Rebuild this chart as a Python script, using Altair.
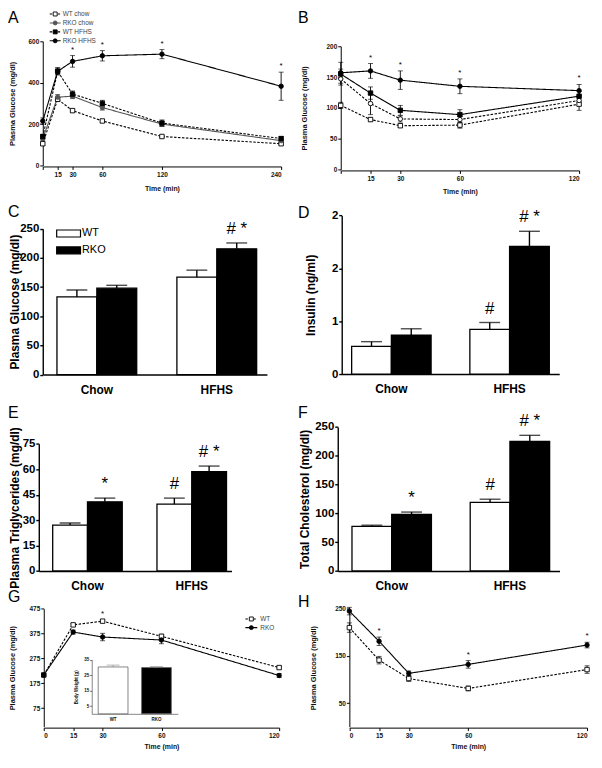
import altair as alt
import pandas as pd

FONT = "Liberation Sans"
W, H = 590, 745

# ---------------- data ----------------
# A: glucose tolerance
a_times = [0, 15, 30, 60, 120, 240]
a_wt_chow = [105, 320, 265, 215, 140, 105]
a_wt_chow_sem = [8, 10, 8, 6, 6, 6]
a_rko_chow = [130, 330, 335, 280, 200, 120]
a_rko_chow_sem = [8, 12, 12, 12, 12, 8]
a_wt_hfhs = [140, 455, 345, 300, 205, 130]
a_wt_hfhs_sem = [10, 15, 15, 15, 15, 10]
a_rko_hfhs = [215, 455, 503, 530, 538, 383]
a_rko_hfhs_sem = [15, 18, 28, 25, 22, 68]
a_sig_times = [30, 60, 120, 240]

# B: insulin tolerance
b_times = [0, 15, 30, 60, 120]
b_wt_chow = [104, 81, 71, 72, 106]
b_wt_chow_sem = [5, 3, 3, 5, 10]
b_rko_chow = [147, 107, 82, 81, 112]
b_rko_chow_sem = [10, 18, 5, 5, 8]
b_wt_hfhs = [155, 124, 96, 89, 119]
b_wt_hfhs_sem = [8, 10, 8, 8, 8]
b_rko_hfhs = [157, 160, 145, 135, 128]
b_rko_hfhs_sem = [17, 12, 15, 12, 10]
b_sig_times = [15, 30, 60, 120]

series_names = ["WT chow", "RKO chow", "WT HFHS", "RKO HFHS"]

# C-F: bars (order: WT chow, RKO chow, WT HFHS, RKO HFHS)
diets = ["Chow", "HFHS"]
genos = ["WT", "RKO"]
c_glucose = [133, 148, 167, 215.6]
c_sem = [12, 5, 12, 10]
c_marks = ["", "", "", "# *"]
d_insulin = [0.42, 0.59, 0.675, 1.93]
d_sem = [0.07, 0.095, 0.105, 0.23]
d_marks = ["", "", "#", "# *"]
e_tg = [27.1, 40.8, 39.4, 58.6]
e_sem = [1.2, 2.2, 3.6, 3.3]
e_marks = ["", "*", "#", "# *"]
f_chol = [77.6, 98.3, 119, 225]
f_sem = [1.9, 4.0, 5.6, 10.5]
f_marks = ["", "*", "#", "# *"]

# G: glucose tolerance, WT vs RKO
g_times = [0, 15, 30, 60, 120]
g_wt = [208, 410, 425, 364, 238]
g_wt_sem = [6, 6, 4, 8, 6]
g_rko = [208, 381, 361, 349, 206]
g_rko_sem = [8, 8, 15, 15, 8]
g_sig_times = [30]
# G inset: body weight
bw_mean = [30.3, 29.9]
bw_sem = [1.2, 0.7]

# H: insulin tolerance, WT vs RKO
h_times = [0, 15, 30, 60, 120]
h_wt = [210, 141, 102, 81, 121]
h_wt_sem = [10, 8, 6, 5, 8]
h_rko = [245, 181, 113, 132, 173]
h_rko_sem = [8, 9, 5, 8, 6]
h_sig_times = [15, 60, 120]


# ---------------- helpers ----------------
def long_df(times, pairs):
    rows = []
    for name, means, sems in pairs:
        for t, m, s in zip(times, means, sems):
            rows.append(dict(series=name, t=t, mean=m, lo=m - s, hi=m + s))
    return pd.DataFrame(rows)


def star_df(df, series, times):
    sub = df[(df["series"] == series) & (df["t"].isin(times))]
    return sub[["t", "hi"]].reset_index(drop=True)


def style_encodings(names, dashes, strokes, fills, shapes):
    dash = alt.StrokeDash("series:N", scale=alt.Scale(domain=names, range=dashes), legend=None)
    strk = alt.Stroke("series:N", scale=alt.Scale(domain=names, range=strokes), legend=None)
    fil = alt.Fill("series:N", scale=alt.Scale(domain=names, range=fills), legend=None)
    shp = alt.Shape("series:N", scale=alt.Scale(domain=names, range=shapes), legend=None)
    return dash, strk, fil, shp


def line_panel(df, stars, style, xdom, xr, xticks, hide0, ydom, yr, yticks,
               ax_y, ay_x, ytitle, ytitle_x, xtitle_y):
    dash, strk, fil, shp = style
    xkw = dict(orient="bottom", offset=ax_y - H, values=xticks, title="Time (min)",
               tickSize=3, tickWidth=1, domainWidth=1, labelFontSize=6.5,
               labelFontWeight="bold", labelPadding=2, titleFontSize=7,
               titleFontWeight="bold", titleY=xtitle_y - ax_y, titleBaseline="middle")
    if hide0:
        xkw["labelExpr"] = "datum.value == 0 ? '' : datum.label"
    X = alt.X("t:Q", scale=alt.Scale(domain=xdom, range=xr, nice=False, zero=False),
              axis=alt.Axis(**xkw))
    ysc = alt.Scale(domain=ydom, range=yr, nice=False, zero=False)
    yax = alt.Axis(orient="left", offset=-ay_x, values=yticks, title=ytitle,
                   tickSize=3, tickWidth=1, domainWidth=1, labelFontSize=6.5,
                   labelFontWeight="bold", labelPadding=1, titleFontSize=7.5,
                   titleFontWeight="bold", titleX=ytitle_x - ay_x, titleBaseline="middle")

    def Y(f):
        return alt.Y(f"{f}:Q", scale=ysc, axis=yax)

    base = alt.Chart(df)
    lines = base.mark_line(strokeWidth=1.1).encode(X, Y("mean"), strokeDash=dash, stroke=strk)
    err = base.mark_rule(color="black", strokeWidth=0.9).encode(X, Y("lo"), y2="hi:Q")
    cap_hi = base.mark_tick(orient="horizontal", size=5, thickness=0.9, color="black").encode(X, Y("hi"))
    cap_lo = base.mark_tick(orient="horizontal", size=5, thickness=0.9, color="black").encode(X, Y("lo"))
    pts = base.mark_point(size=20, opacity=1, strokeWidth=0.9).encode(
        X, Y("mean"), shape=shp, fill=fil, stroke=strk)
    st = alt.Chart(stars).mark_text(text="*", fontSize=8, dy=-6, font=FONT).encode(X, Y("hi"))
    return alt.layer(lines, err, cap_hi, cap_lo, pts, st)


def bar_panel(vals, sems, marks, xr, pi, po, al, ydom, yr, yticks, yfmt,
              ax_y, ay_x, ytitle, ytitle_x):
    df = pd.DataFrame({
        "diet": [d for d in diets for g in genos],
        "geno": [g for d in diets for g in genos],
        "mean": vals, "sem": sems, "mark": marks,
    })
    df["hi"] = df["mean"] + df["sem"]
    X = alt.X("diet:N",
              scale=alt.Scale(domain=diets, range=xr, paddingInner=pi, paddingOuter=po, align=al),
              axis=alt.Axis(orient="bottom", offset=ax_y - H, title=None, ticks=False,
                            labelAngle=0, labelFontSize=12, labelFontWeight="bold",
                            labelPadding=10, domainWidth=1.4, labelColor="black"))
    XO = alt.XOffset("geno:N", scale=alt.Scale(domain=genos, paddingInner=0, paddingOuter=0))
    ysc = alt.Scale(domain=ydom, range=yr, nice=False)
    ykw = dict(orient="left", offset=-ay_x, values=yticks, title=ytitle, tickSize=3,
               tickWidth=1.4, domainWidth=1.4, labelFontSize=11.5, labelFontWeight="bold",
               labelPadding=1, titleFontSize=12, titleFontWeight="bold",
               titleX=ytitle_x - ay_x, titleBaseline="middle", labelColor="black",
               titleColor="black")
    if yfmt:
        ykw["format"] = yfmt
    yax = alt.Axis(**ykw)

    def Y(f):
        return alt.Y(f"{f}:Q", scale=ysc, axis=yax)

    fill = alt.Fill("geno:N", scale=alt.Scale(domain=genos, range=["white", "black"]), legend=None)
    base = alt.Chart(df)
    bars = base.mark_bar(stroke="black", strokeWidth=1.3).encode(X, XO, Y("mean"), fill=fill)
    err = base.mark_rule(color="black", strokeWidth=1.4).encode(X, XO, Y("mean"), y2="hi:Q")
    cap = base.mark_tick(orient="horizontal", size=21, thickness=1.4, color="black").encode(X, XO, Y("hi"))
    ann = alt.Chart(df[df["mark"] != ""]).mark_text(
        fontSize=17, dy=-9, baseline="alphabetic", font=FONT).encode(X, XO, Y("hi"), text="mark:N")
    return alt.layer(bars, err, cap, ann)


def line_legend(names, style, rows, x0, x1, xm, xt):
    dash, strk, fil, shp = style
    df = pd.DataFrame({"series": names})
    Y = alt.Y("series:N", scale=alt.Scale(type="point", domain=names, range=rows, padding=0), axis=None)
    seg = alt.Chart(df).mark_rule(strokeWidth=1.1).encode(
        x=alt.value(x0), x2=alt.value(x1), y=Y, strokeDash=dash, stroke=strk)
    pt = alt.Chart(df).mark_point(size=16, opacity=1, strokeWidth=0.9).encode(
        x=alt.value(xm), y=Y, shape=shp, fill=fil, stroke=strk)
    tx = alt.Chart(df).mark_text(align="left", fontSize=6.5, color="#444", font=FONT).encode(
        x=alt.value(xt), y=Y, text="series:N")
    return alt.layer(seg, pt, tx)


def letter(ch, x, y):
    return alt.Chart(pd.DataFrame({"lab": [ch]})).mark_text(
        align="left", baseline="top", fontSize=16, font=FONT, color="black").encode(
        x=alt.value(x), y=alt.value(y), text="lab:N")


# ---------------- panels ----------------
DASH = [2.5, 1.5]
SOLID = [1, 0]

style_a = style_encodings(series_names, [DASH, SOLID, DASH, SOLID],
                          ["black", "#555", "black", "black"],
                          ["white", "#555", "black", "black"],
                          ["square", "circle", "square", "circle"])
df_a = long_df(a_times, [("WT chow", a_wt_chow, a_wt_chow_sem),
                         ("RKO chow", a_rko_chow, a_rko_chow_sem),
                         ("WT HFHS", a_wt_hfhs, a_wt_hfhs_sem),
                         ("RKO HFHS", a_rko_hfhs, a_rko_hfhs_sem)])
pA = line_panel(df_a, star_df(df_a, "RKO HFHS", a_sig_times), style_a,
                [0, 240], [35, 275], a_times, True, [0, 600], [156, 31], [0, 200, 400, 600],
                157, 35, "Plasma Glucose (mg/dl)", 4.5, 179.5)
legA = line_legend(series_names, style_a, [3.5, 30.5], 42, 53, 47.5, 55)

style_b = style_encodings(series_names, [DASH, DASH, SOLID, SOLID],
                          ["black", "black", "black", "black"],
                          ["white", "white", "black", "black"],
                          ["square", "circle", "square", "circle"])
df_b = long_df(b_times, [("WT chow", b_wt_chow, b_wt_chow_sem),
                         ("RKO chow", b_rko_chow, b_rko_chow_sem),
                         ("WT HFHS", b_wt_hfhs, b_wt_hfhs_sem),
                         ("RKO HFHS", b_rko_hfhs, b_rko_hfhs_sem)])
pB = line_panel(df_b, star_df(df_b, "RKO HFHS", b_sig_times), style_b,
                [0, 120], [335, 575], b_times, True, [0, 200], [160, 36], [0, 50, 100, 150, 200],
                161, 335, "Plasma Glucose (mg/dl)", 299, 182)

pC = bar_panel(c_glucose, c_sem, c_marks, [35, 260.7], 0.335, 0.102, 0.58,
               [0, 250], [366.5, 219.7], [0, 50, 100, 150, 200, 250], None,
               366.5, 35, "Plasma Glucose (mg/dl)", 6.5)
leg_df = pd.DataFrame({"geno": genos})
leg_y = alt.Y("geno:N", scale=alt.Scale(type="band", domain=genos, range=[221, 245],
                                         paddingInner=0.588, paddingOuter=0), axis=None)
legC = alt.layer(
    alt.Chart(leg_df).mark_rect(stroke="black", strokeWidth=1.2).encode(
        x=alt.value(49), x2=alt.value(73), y=leg_y,
        fill=alt.Fill("geno:N", scale=alt.Scale(domain=genos, range=["white", "black"]), legend=None)),
    alt.Chart(leg_df).mark_text(align="left", fontSize=11, font=FONT).encode(
        x=alt.value(74.5), y=leg_y, text="geno:N"),
)

pD = bar_panel(d_insulin, d_sem, d_marks, [336, 555], 0.328, 0.084, 0.5,
               [0, 2.4], [366, 206.3], [0, 0.8, 1.6, 2.4], ".0f",
               366, 336, "Insulin (ng/ml)", 305)
pE = bar_panel(e_tg, e_sem, e_marks, [31, 225], 0.333, 0.0905, 0.737,
               [0, 75], [564.3, 436.3], [0, 15, 30, 45, 60, 75], None,
               564.3, 31, "Plasma Triglycerides (mg/dl)", 6.5)
pF = bar_panel(f_chol, f_sem, f_marks, [332, 555.3], 0.328, 0.102, 0.59,
               [0, 250], [564.3, 419.3], [0, 50, 100, 150, 200, 250], None,
               564.3, 332, "Total Cholesterol (mg/dl)", 298.5)

gh_names = ["WT", "RKO"]
style_g = style_encodings(gh_names, [DASH, SOLID], ["black", "black"], ["white", "black"],
                          ["square", "circle"])
df_g = long_df(g_times, [("WT", g_wt, g_wt_sem), ("RKO", g_rko, g_rko_sem)])
pG = line_panel(df_g, star_df(df_g, "WT", g_sig_times), style_g,
                [0, 120], [36, 273], g_times, False, [0, 475], [721, 602.3],
                [75, 175, 275, 375, 475], 722, 36, "Plasma Glucose (mg/dl)", 4.5, 741)
legG = line_legend(gh_names, style_g, [612.6, 621.3], 239, 251, 245, 254)

# inset body weight
bw_df = pd.DataFrame({"geno": genos, "mean": bw_mean, "sem": bw_sem})
bw_df["hi"] = bw_df["mean"] + bw_df["sem"]
IX = alt.X("geno:N", scale=alt.Scale(domain=genos, range=[84.3, 171], paddingInner=0.313,
                                     paddingOuter=0.149),
           axis=alt.Axis(orient="bottom", offset=708.1 - H, title=None, ticks=False, labelAngle=0,
                         labelFontSize=4.5, labelFontWeight="bold", labelPadding=3,
                         domainColor="#666", domainWidth=0.8))
isc = alt.Scale(domain=[0, 35], range=[708.1, 653.6], nice=False)
iax = alt.Axis(orient="left", offset=-84.3, values=[5, 15, 25, 35], title="Body Weight (g)",
               tickSize=2, tickColor="#666", domainColor="#666", domainWidth=0.8,
               labelFontSize=4.5, labelFontWeight="bold", labelPadding=1,
               titleFontSize=4.5, titleFontWeight="bold", titleX=69 - 84.3,
               titleBaseline="middle")
inset = alt.layer(
    alt.Chart(bw_df).mark_bar(stroke="#666", strokeWidth=0.8).encode(
        IX, alt.Y("mean:Q", scale=isc, axis=iax),
        fill=alt.Fill("geno:N", scale=alt.Scale(domain=genos, range=["white", "black"]), legend=None)),
    alt.Chart(bw_df).mark_rule(color="#999", strokeWidth=1).encode(
        IX, alt.Y("mean:Q", scale=isc, axis=iax), y2="hi:Q"),
    alt.Chart(bw_df).mark_tick(orient="horizontal", size=13, thickness=1, color="#999").encode(
        IX, alt.Y("hi:Q", scale=isc, axis=iax)),
)

df_h = long_df(h_times, [("WT", h_wt, h_wt_sem), ("RKO", h_rko, h_rko_sem)])
pH = line_panel(df_h, star_df(df_h, "RKO", h_sig_times), style_g,
                [0, 120], [343.7, 583], h_times, False, [0, 250], [721, 602.3],
                [50, 150, 250], 722, 343.7, "Plasma Glucose (mg/dl)", 308, 741)

letters = [letter("A", 0, 0), letter("B", 292, 0), letter("C", 0, 195), letter("D", 292, 196),
           letter("E", 0, 397), letter("F", 292, 397), letter("G", 0, 583), letter("H", 292, 588)]

chart = alt.layer(pA, legA, pB, pC, legC, pD, pE, pF, pG, inset, legG, pH, *letters).resolve_scale(
    x="independent", y="independent", xOffset="independent", fill="independent",
    stroke="independent", strokeDash="independent", shape="independent",
).resolve_axis(x="independent", y="independent").properties(
    width=W, height=H, padding=0, autosize="none", background="white",
).configure(font=FONT).configure_axis(
    grid=False, domainColor="black", tickColor="black", labelColor="#111", titleColor="#111",
).configure_view(strokeWidth=0)

chart.save("out.html", embed_options={"renderer": "svg", "actions": False})
